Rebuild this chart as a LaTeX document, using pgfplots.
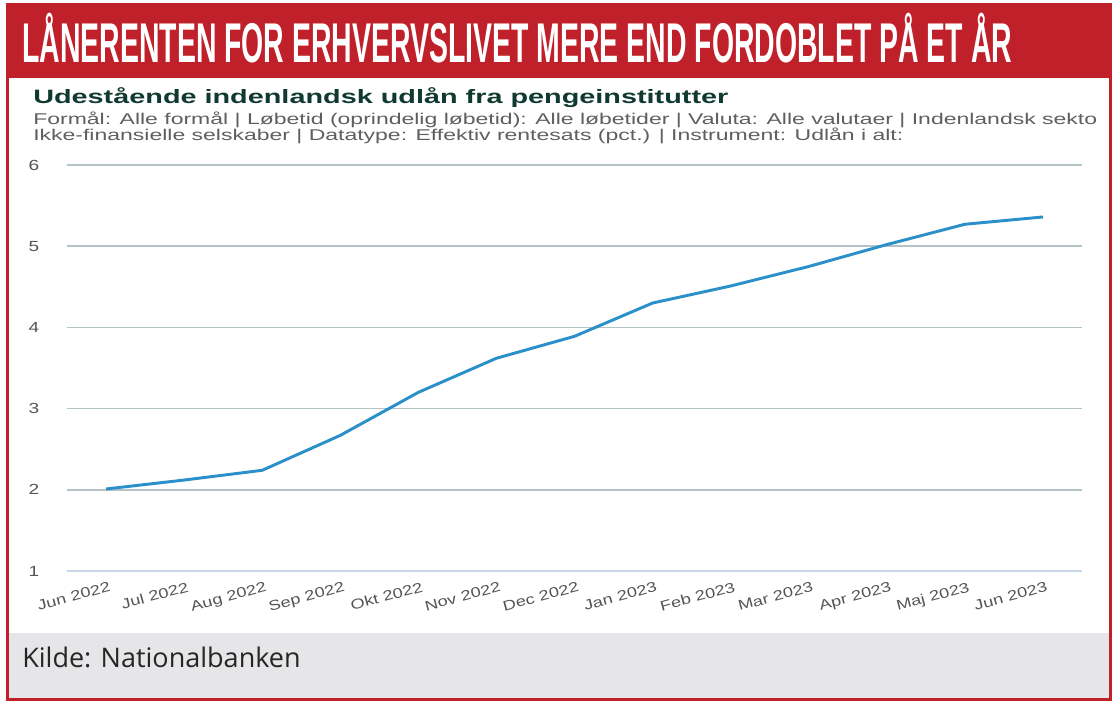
\documentclass[border=0pt]{standalone}
\usepackage{fontspec}
\usepackage{graphicx}
\usepackage{pgfplots}
\pgfplotsset{compat=1.18}
\setmainfont{Liberation Sans}
\newfontfamily\footfont{Open Sans}

\definecolor{hdred}{RGB}{192,32,42}
\definecolor{footgrey}{RGB}{230,230,232}
\definecolor{subgreen}{RGB}{16,58,48}
\definecolor{txtgrey}{RGB}{95,95,95}
\definecolor{tickc}{RGB}{85,85,85}
\definecolor{gridc}{RGB}{180,196,198}
\definecolor{gridlow}{RGB}{200,214,232}
\definecolor{linec}{RGB}{43,143,201}

% the chart screenshot is stretched sideways
\newcommand\xs[1]{\scalebox{1.3}[1]{#1}}

\begin{document}
\begin{tikzpicture}
\begin{scope}[x=0.75pt,y=0.75pt]
  \useasboundingbox (0,0) rectangle (1116,705);
  \fill[white] (0,0) rectangle (1116,705);
  \fill[hdred] (7,627) rectangle (1110,700);
  \fill[footgrey] (7,5) rectangle (1110,72);
  \node[anchor=base west, inner sep=0pt, text=white] at (22,642)
    {\resizebox{742.5pt}{\height}{\fontsize{42}{44}\selectfont\bfseries L\AA NERENTEN FOR ERHVERVSLIVET MERE END FORDOBLET P\AA{} ET \AA R}};
  \node[anchor=base west, inner sep=0pt, text=subgreen] at (33,601)
    {\resizebox{521.25pt}{\height}{\fontsize{14.5}{16}\selectfont\bfseries Udestående indenlandsk udlån fra pengeinstitutter}};
  \node[anchor=base west, inner sep=0pt, text=txtgrey] at (33,580)
    {\resizebox{798pt}{\height}{\fontsize{11.7}{13}\selectfont Formål: Alle formål | Løbetid (oprindelig løbetid): Alle løbetider | Valuta: Alle valutaer | Indenlandsk sekto}};
  \node[anchor=base west, inner sep=0pt, text=txtgrey] at (33,564)
    {\resizebox{652.5pt}{\height}{\fontsize{11.7}{13}\selectfont Ikke-finansielle selskaber | Datatype: Effektiv rentesats (pct.) | Instrument: Udlån i alt:}};
  \node[anchor=base west, inner sep=0pt, text=black!85] at (22,37)
    {\footfont\fontsize{20.25}{22}\selectfont Kilde: Nationalbanken};
\end{scope}

\begin{axis}[
    at={(50.25pt,100.5pt)}, anchor=south west,
    scale only axis,
    width=761.25pt, height=304.5pt,
    xmin=-0.5, xmax=12.5,
    ymin=1, ymax=6,
    axis line style={draw=none},
    tick style={draw=none},
    ymajorgrids,
    grid style={line width=1.1pt, color=gridc},
    ytick={2,3,4,5,6},
    yticklabels={\xs{2},\xs{3},\xs{4},\xs{5},\xs{6}},
    extra y ticks={1},
    extra y tick labels={\xs{1}},
    extra y tick style={grid style={line width=1.1pt, color=gridlow}},
    yticklabel style={anchor=center, xshift=-24.75pt, inner sep=0pt,
        font=\fontsize{11}{12}\selectfont, text=tickc},
    xtick={0,...,12},
    xticklabels={\xs{Jun 2022},\xs{Jul 2022},\xs{Aug 2022},\xs{Sep 2022},
        \xs{Okt 2022},\xs{Nov 2022},\xs{Dec 2022},\xs{Jan 2023},\xs{Feb 2023},
        \xs{Mar 2023},\xs{Apr 2023},\xs{Maj 2023},\xs{Jun 2023}},
    xticklabel style={rotate=15, anchor=north east, inner sep=0pt, yshift=-8pt,
        font=\fontsize{10.5}{12}\selectfont, text=tickc},
    clip=false
]
\addplot[color=linec, line width=2.2pt, line join=round, mark=none] coordinates {
    (0,2.01) (1,2.12) (2,2.24) (3,2.67) (4,3.20) (5,3.62) (6,3.89)
    (7,4.30) (8,4.51) (9,4.75) (10,5.02) (11,5.27) (12,5.36)
};
\end{axis}

\begin{scope}[x=0.75pt,y=0.75pt]
  \draw[hdred, line width=2.25pt] (7,5) rectangle (1110,700);
\end{scope}
\end{tikzpicture}
\end{document}
